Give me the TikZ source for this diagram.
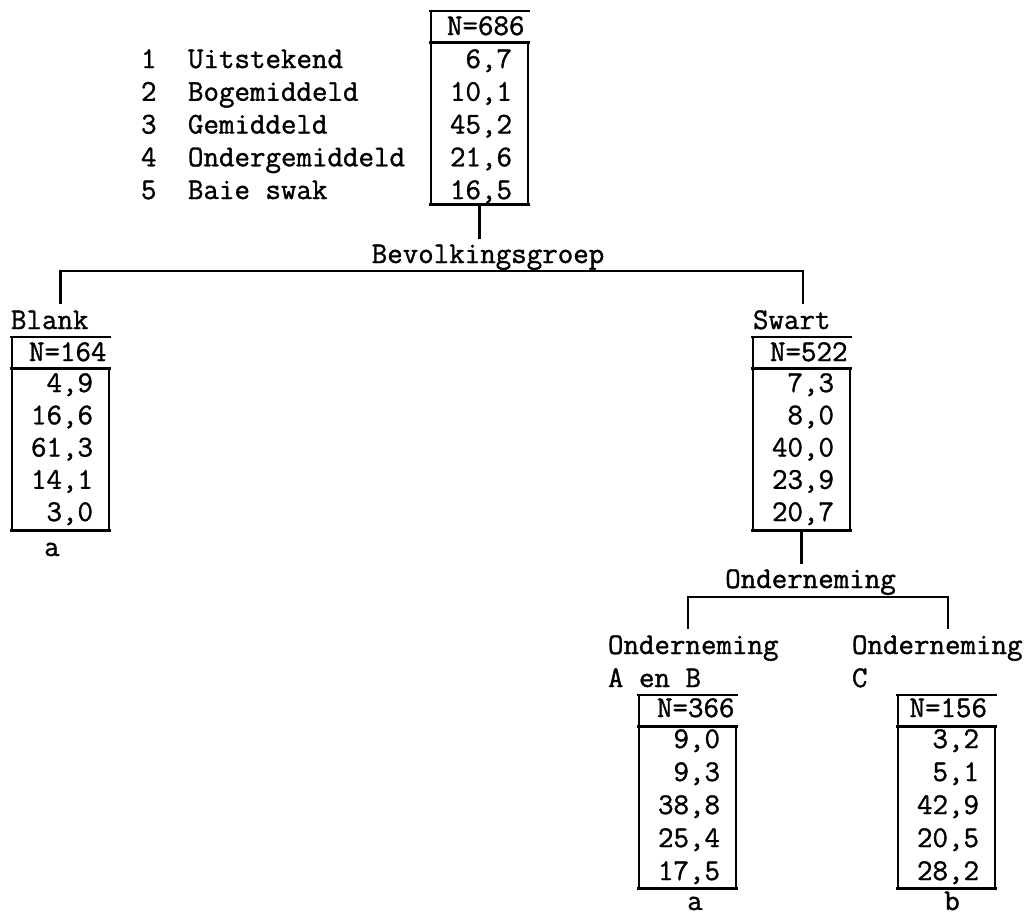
\documentclass[tikz,border=0pt]{standalone}
\usepackage{fontspec}
\newfontfamily\typewriter{Latin Modern Mono}[FakeBold=1.2]

% frame of one table: open top-right corner beside the N row
\newcommand\tabframe[1]{%
  \draw[frame] ([xshift=-2pt]#1.north west) -- ([xshift=2pt]#1.north east);
  \draw[frame] (#1.north west) -- (#1.south west);
  \draw[frame] ([xshift=-2pt,yshift=-31.5pt]#1.north west) -- ([xshift=2pt,yshift=-31.5pt]#1.north east);
  \draw[frame] ([yshift=-31.5pt]#1.north east) -- (#1.south east);
  \draw[frame] ([xshift=-2pt]#1.south west) -- ([xshift=2pt]#1.south east);}

% N row of a table: box, x offset, baseline offset, text
\newcommand\tabhead[4]{%
  \node[txt,anchor=base west] (#1-n) at ([xshift=#2pt,yshift=-#3pt]#1.north west) {#4};}

% percentage column: box, first baseline, line spacing, values
\newcommand\tabvalues[4]{%
  \foreach \v [count=\i] in {#4} {%
    \node[txt,anchor=base east] (#1-v\i) at ([xshift=81pt,yshift={-(#2pt+#3pt*(\i-1))}]#1.north west) {\v};}}

\begin{document}
\begin{tikzpicture}[x=1pt,y=-1pt,
  txt/.style={font=\typewriter\fontsize{30.1}{33}\selectfont, inner sep=0pt, outer sep=0pt},
  frame/.style={line width=2.2pt},
  tabarea/.style={rectangle, draw=none, minimum width=97pt, minimum height=193.5pt, inner sep=0pt, outer sep=0pt}]
\useasboundingbox (0,0) rectangle (1034,918);

% legend of the five ratings
\foreach \lbl [count=\i] in {Uitstekend,Bogemiddeld,Gemiddeld,Ondergemiddeld,Baie swak} {%
  \node[txt,anchor=base west] (num\i) at (141,{68+32.75*(\i-1)}) {\i};
  \node[txt,anchor=base west] (lab\i) at (188,{68+32.75*(\i-1)}) {\lbl};}

% tables
\node[tabarea] (root)  at (479.5,107.75) {};
\node[tabarea] (blank) at (60.5,433.75) {};
\node[tabarea] (swart) at (801.5,433.75) {};
\node[tabarea] (ab)    at (687.5,791.75) {};
\node[tabarea] (c)     at (946.5,791.75) {};

\tabframe{root}\tabframe{blank}\tabframe{swart}\tabframe{ab}\tabframe{c}

\tabhead{root}{16}{24}{N=686}
\tabhead{blank}{17}{24}{N=164}
\tabhead{swart}{17}{24}{N=522}
\tabhead{ab}{18}{22}{N=366}
\tabhead{c}{11.5}{22}{N=156}

\tabvalues{root}{57}{32.75}{{6,7},{10,1},{45,2},{21,6},{16,5}}
\tabvalues{blank}{55}{32.25}{{4,9},{16,6},{61,3},{14,1},{3,0}}
\tabvalues{swart}{55}{32.25}{{7,3},{8,0},{40,0},{23,9},{20,7}}
\tabvalues{ab}{53}{33}{{9,0},{9,3},{38,8},{25,4},{17,5}}
\tabvalues{c}{53}{33}{{3,2},{5,1},{42,9},{20,5},{28,2}}

% group labels above the tables
\node[txt,anchor=base west] (blanklbl) at (11,329) {Blank};
\node[txt,anchor=base west] (swartlbl) at (753,329) {Swart};
\node[txt,anchor=base west] (ablbl1) at (608,654) {Onderneming};
\node[txt,anchor=base west] (ablbl2) at (608,687) {A en B};
\node[txt,anchor=base west] (clbl1) at (852,654) {Onderneming};
\node[txt,anchor=base west] (clbl2) at (852,687) {C};

% letters below the tables
\node[txt,anchor=base] (blanknote) at (52,556) {a};
\node[txt,anchor=base] (abnote) at (695,910) {a};
\node[txt,anchor=base] (cnote) at (952,910) {b};

% first split
\coordinate (bevstem) at (479.5,239);
\coordinate (bevL) at (60.5,271);
\coordinate (bevR) at (803,271);
\coordinate (blankdrop) at (60.5,304);
\coordinate (swartdrop) at (803,304);
\draw[frame] (root.south) -- (bevstem);
\node[txt,anchor=base] (bev) at (488,263) {Bevolkingsgroep};
\draw[frame] (blankdrop) -- (bevL) -- (bevR) -- (swartdrop);

% second split
\coordinate (ondstem) at (801.5,564);
\coordinate (ondL) at (688,597);
\coordinate (ondR) at (948,597);
\coordinate (abdrop) at (688,629);
\coordinate (cdrop) at (948,629);
\draw[frame] (swart.south) -- (ondstem);
\node[txt,anchor=base] (ond) at (810.5,588) {Onderneming};
\draw[frame] (abdrop) -- (ondL) -- (ondR) -- (cdrop);
\end{tikzpicture}
\end{document}
